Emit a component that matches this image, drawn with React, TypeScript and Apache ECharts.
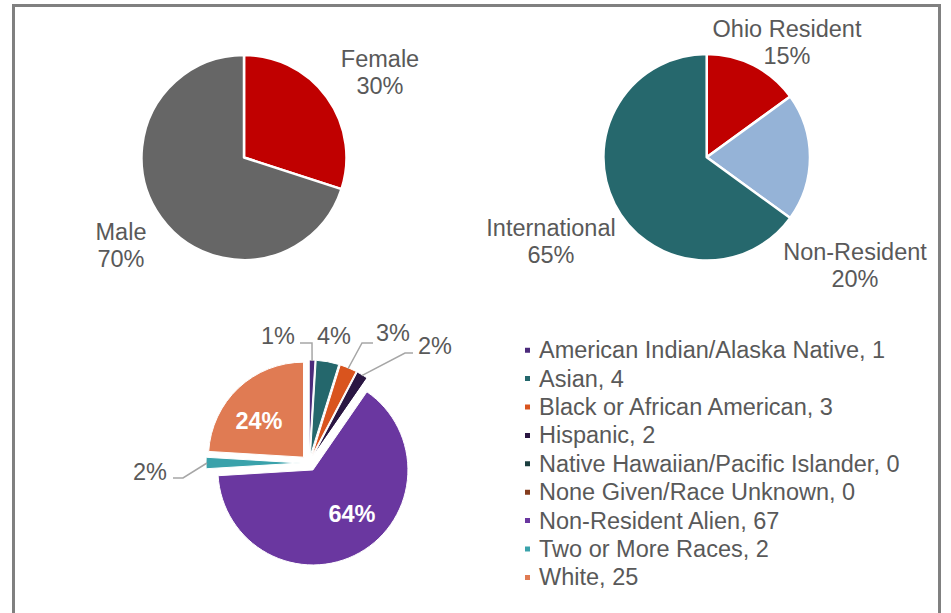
import React, { useEffect, useRef } from 'react';
import * as echarts from 'echarts';

// ---------- data ----------
const genderCategories = ['Female', 'Male'];
const genderValues = [30, 70];

const residencyCategories = ['Ohio Resident', 'Non-Resident', 'International'];
const residencyValues = [15, 20, 65];

const raceCategories = [
  'American Indian/Alaska Native',
  'Asian',
  'Black or African American',
  'Hispanic',
  'Native Hawaiian/Pacific Islander',
  'None Given/Race Unknown',
  'Non-Resident Alien',
  'Two or More Races',
  'White',
];
const raceValues = [1, 4, 3, 2, 0, 0, 67, 2, 25];

// ---------- styles / layout ----------
const FONT = "'Liberation Sans', Arial, sans-serif";
const TEXT = '#595959';
const FS = 23.5;
const genderColors = ['#C00000', '#666666'];
const residencyColors = ['#C00000', '#95B3D7', '#26686D'];
const raceColors = ['#4B2A7B', '#24676C', '#D9541E', '#2A1642', '#1B3E3F', '#843C1E', '#6A37A0', '#3AA2AB', '#E07B53'];

const genderLabelPos: number[][] = [[380, 72], [121, 245]];
const residencyLabelPos: number[][] = [[787, 42], [855, 265], [551, 241]];
const raceLabelPos: (number[] | null)[] = [
  [278, 336], [334, 336], [393, 333], [435, 346], null, null, [352, 514], [150, 472], [259, 421],
];
// leader-line elbow and end points (label side) for outside labels
const raceLeader: (number[][] | null)[] = [
  [[312, 343], [300, 343]],
  null,
  [[362, 343], [373, 343]],
  [[405, 353], [413, 353]],
  null,
  null,
  null,
  [[183, 478], [173, 478]],
  null,
];
const insideIdx = [6, 8];
const RACE_CENTER = [309, 463];
const RACE_R = 95;
const RACE_OFFSET = 8;

const raceTotal = raceValues.reduce((a, b) => a + b, 0);

function raceMidAngle(i: number) {
  let before = 0;
  for (let k = 0; k < i; k++) before += raceValues[k];
  return ((before + raceValues[i] / 2) / raceTotal) * Math.PI * 2; // clockwise from 12 o'clock
}

export default function App() {
  const ref = useRef<HTMLDivElement>(null);
  useEffect(() => {
    if (!ref.current) return;
    const chart = echarts.init(ref.current, null, { renderer: 'svg' });
    const pctLabel = (p: any) => `${Math.round((p.value / raceTotal) * 100)}%`;
    const option: any = {
      animation: false,
      backgroundColor: '#ffffff',
      textStyle: { fontFamily: FONT },
      graphic: [
        {
          type: 'polyline',
          shape: { points: [[13.5, 613], [13.5, 5.5], [939.5, 5.5], [939.5, 613]] },
          style: { stroke: '#808080', lineWidth: 3, fill: 'none' },
          silent: true,
        },
      ],
      legend: {
        orient: 'vertical',
        left: 518,
        top: 331,
        itemWidth: 7,
        itemHeight: 7,
        itemGap: 0,
        icon: 'rect',
        selectedMode: false,
        data: raceCategories,
        formatter: (name: string) => `${name}, ${raceValues[raceCategories.indexOf(name)]}`,
        textStyle: { fontSize: FS, color: TEXT, lineHeight: 28.4, fontFamily: FONT, padding: [0, 0, 0, 3] },
      },
      series: [
        {
          type: 'pie',
          center: [244, 157.5],
          radius: 102.5,
          avoidLabelOverlap: false,
          silent: true,
          itemStyle: { borderColor: '#ffffff', borderWidth: 2.5 },
          data: genderCategories.map((n, i) => ({ name: n, value: genderValues[i], itemStyle: { color: genderColors[i] } })),
          label: {
            show: true,
            position: 'outside',
            formatter: (p: any) => `${p.name}\n${Math.round(p.percent)}%`,
            fontSize: FS,
            lineHeight: 27,
            color: TEXT,
            fontFamily: FONT,
          },
          labelLine: { show: false },
          labelLayout: (p: any) => {
            const pos = genderLabelPos[p.dataIndex];
            return { x: pos[0], y: pos[1], align: 'center', verticalAlign: 'middle' };
          },
        },
        {
          type: 'pie',
          center: [706.7, 157.3],
          radius: 103.3,
          avoidLabelOverlap: false,
          silent: true,
          itemStyle: { borderColor: '#ffffff', borderWidth: 2.5 },
          data: residencyCategories.map((n, i) => ({ name: n, value: residencyValues[i], itemStyle: { color: residencyColors[i] } })),
          label: {
            show: true,
            position: 'outside',
            formatter: (p: any) => `${p.name}\n${Math.round(p.percent)}%`,
            fontSize: FS,
            lineHeight: 27,
            color: TEXT,
            fontFamily: FONT,
          },
          labelLine: { show: false },
          labelLayout: (p: any) => {
            const pos = residencyLabelPos[p.dataIndex];
            return { x: pos[0], y: pos[1], align: 'center', verticalAlign: 'middle' };
          },
        },
        // exploded slices (no labels)
        {
          type: 'pie',
          center: RACE_CENTER,
          radius: RACE_R,
          avoidLabelOverlap: false,
          selectedMode: 'multiple',
          selectedOffset: RACE_OFFSET,
          silent: true,
          itemStyle: { borderColor: '#ffffff', borderWidth: 1 },
          select: { itemStyle: { borderColor: '#ffffff', borderWidth: 1 } },
          data: raceCategories.map((n, i) => ({
            name: n,
            value: raceValues[i],
            selected: true,
            itemStyle: { color: raceColors[i] },
            select: { itemStyle: { color: raceColors[i], borderColor: '#ffffff', borderWidth: 1 } },
          })),
          label: { show: false },
          labelLine: { show: false },
        },
        // transparent overlay carrying the labels
        {
          type: 'pie',
          center: RACE_CENTER,
          radius: RACE_R,
          avoidLabelOverlap: false,
          silent: true,
          z: 3,
          itemStyle: { color: 'rgba(0,0,0,0)', borderWidth: 0 },
          data: raceCategories.map((n, i) => {
            const inside = insideIdx.includes(i);
            const zero = raceValues[i] === 0;
            return {
              name: n,
              value: raceValues[i],
              label: zero
                ? { show: false }
                : inside
                ? { show: true, position: 'inside', color: '#ffffff', fontWeight: 'bold' }
                : { show: true, position: 'outside' },
              labelLine: { show: !!raceLeader[i] },
            };
          }),
          label: {
            show: true,
            formatter: pctLabel,
            fontSize: FS,
            color: TEXT,
            fontFamily: FONT,
          },
          labelLine: { show: true, length: 10, length2: 10, lineStyle: { color: '#A6A6A6', width: 1.5 } },
          labelLayout: (p: any) => {
            const i = p.dataIndex;
            const pos = raceLabelPos[i];
            if (!pos) return {};
            const res: any = { x: pos[0], y: pos[1], align: 'center', verticalAlign: 'middle' };
            const leader = raceLeader[i];
            if (leader) {
              const a = raceMidAngle(i);
              const d = RACE_R + RACE_OFFSET - 1;
              const start = [RACE_CENTER[0] + d * Math.sin(a), RACE_CENTER[1] - d * Math.cos(a)];
              res.labelLinePoints = [start, leader[0], leader[1]];
            }
            return res;
          },
        },
      ],
    };
    chart.setOption(option);
    return () => chart.dispose();
  }, []);
  return <div ref={ref} style={{ position: 'fixed', left: 0, top: 0, width: 951, height: 613 }} />;
}
